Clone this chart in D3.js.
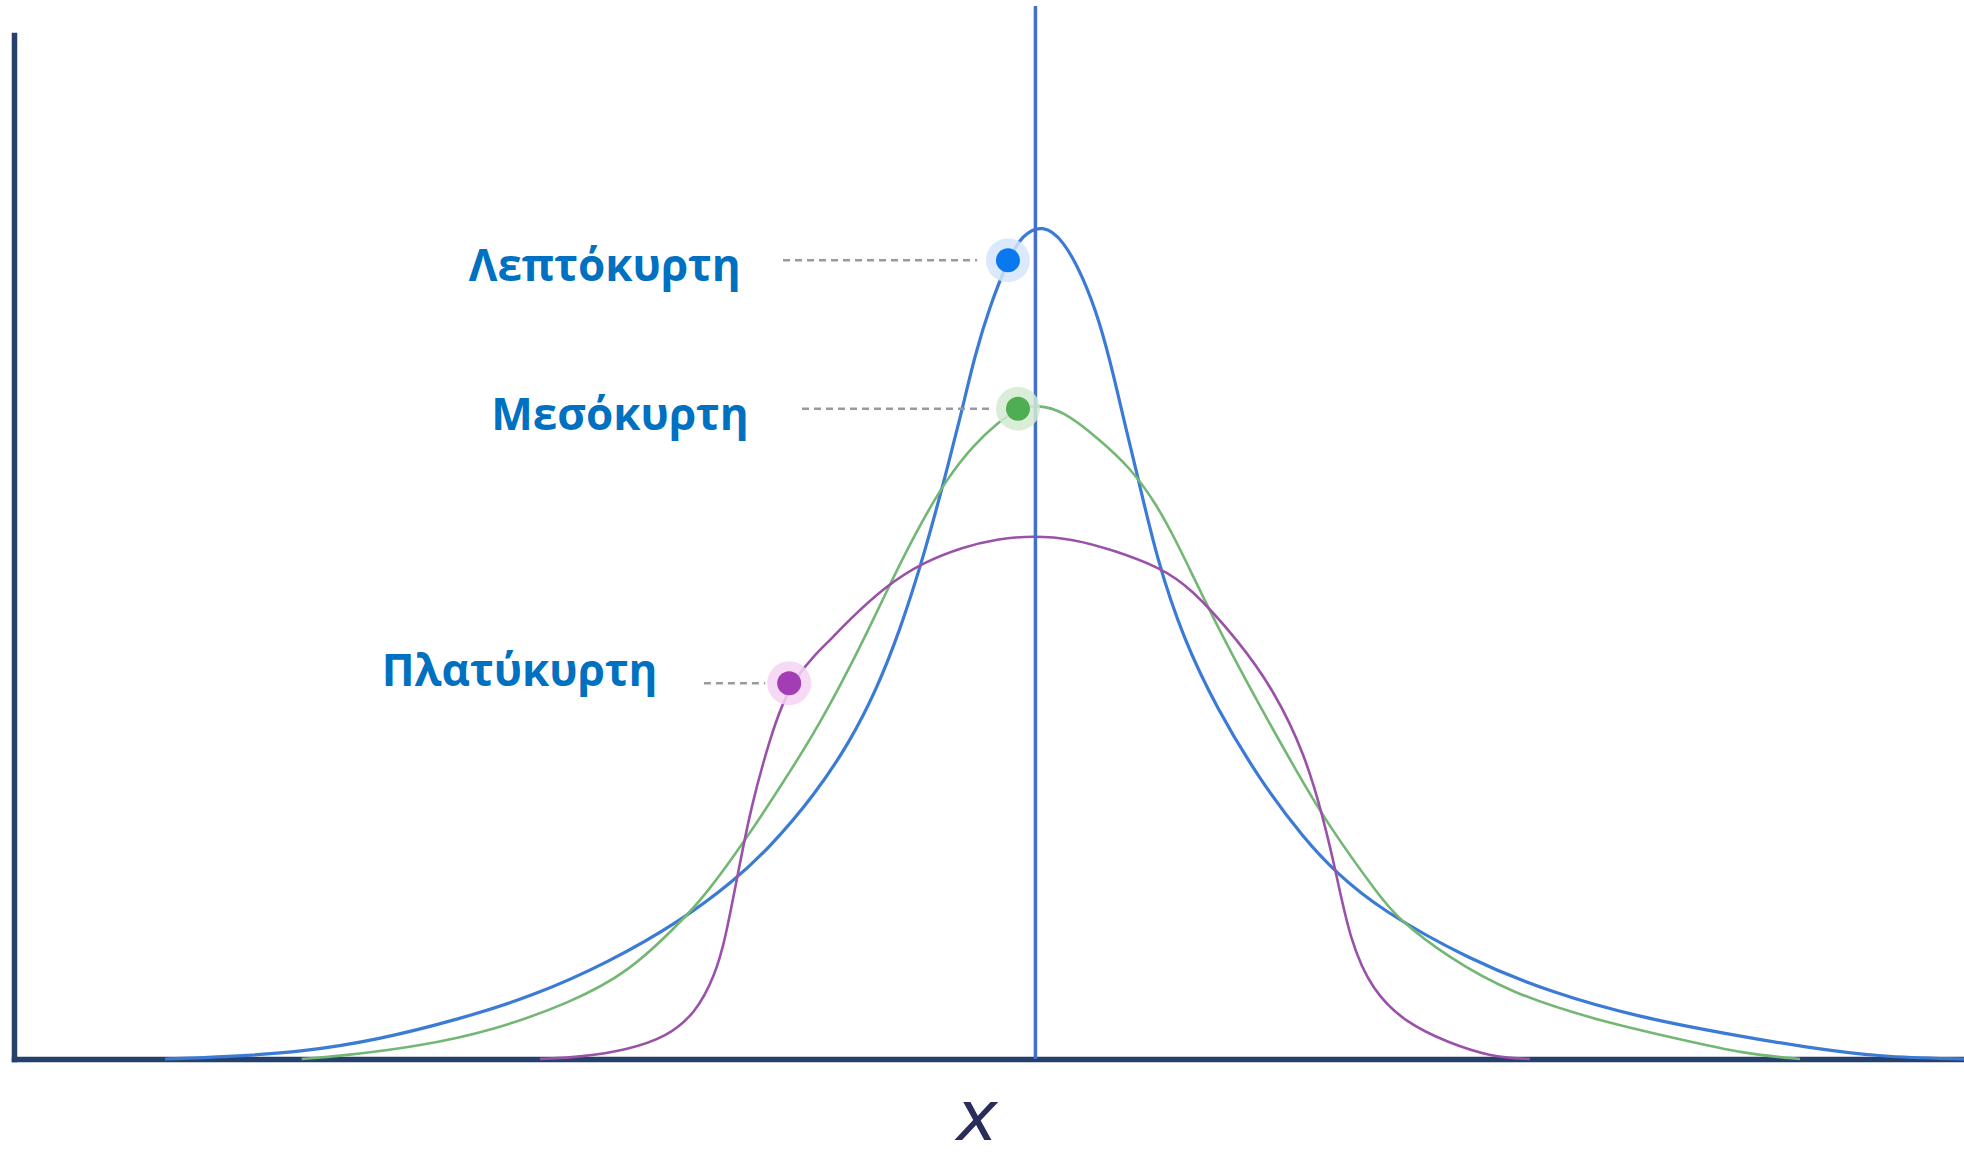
<!DOCTYPE html>
<html>
<head>
<meta charset="utf-8">
<script src="https://cdn.jsdelivr.net/npm/d3@7"></script>
<style>
  html, body { margin: 0; padding: 0; background: #ffffff; }
  svg { display: block; }
</style>
</head>
<body>
<svg id="chart" width="1964" height="1157"></svg>
<script>
// Density curves, as [x, density] pairs
const leptokurtic = [
  [-4.687, 0.000], [-4.358, 0.002], [-3.944, 0.007], [-3.534, 0.019], [-3.120, 0.038],
  [-2.711, 0.061], [-2.301, 0.094], [-1.908, 0.135], [-1.623, 0.174], [-1.434, 0.206],
  [-1.192, 0.257], [-0.998, 0.310], [-0.858, 0.360], [-0.734, 0.416], [-0.594, 0.495],
  [-0.460, 0.587], [-0.395, 0.634], [-0.325, 0.688], [-0.244, 0.736], [-0.148, 0.780],
  [-0.072, 0.805], [0.041, 0.815], [0.149, 0.800], [0.256, 0.764], [0.348, 0.719],
  [0.418, 0.670], [0.493, 0.611], [0.547, 0.572], [0.655, 0.487], [0.800, 0.409],
  [0.972, 0.344], [1.209, 0.272], [1.452, 0.214], [1.619, 0.182], [1.856, 0.146],
  [2.335, 0.097], [2.792, 0.064], [3.250, 0.041], [3.708, 0.025], [4.160, 0.011],
  [4.548, 0.002], [5.000, 0.000]
];
const mesokurtic = [
  [-3.951, 0.000], [-3.739, 0.003], [-3.330, 0.012], [-2.915, 0.028], [-2.506, 0.055],
  [-2.194, 0.084], [-1.908, 0.134], [-1.768, 0.162], [-1.553, 0.216], [-1.359, 0.270],
  [-1.192, 0.318], [-1.047, 0.366], [-0.907, 0.416], [-0.767, 0.470], [-0.621, 0.522],
  [-0.476, 0.567], [-0.336, 0.599], [-0.207, 0.621], [-0.094, 0.635], [0.009, 0.639],
  [0.149, 0.633], [0.332, 0.607], [0.509, 0.578], [0.655, 0.541], [0.762, 0.504],
  [0.832, 0.478], [0.972, 0.425], [1.188, 0.351], [1.403, 0.282], [1.570, 0.230],
  [1.856, 0.158], [1.947, 0.138], [2.222, 0.099], [2.566, 0.064], [3.019, 0.038],
  [3.477, 0.019], [3.821, 0.005], [4.117, 0.000]
];
const platykurtic = [
  [-2.668, 0.000], [-2.442, 0.002], [-2.199, 0.009], [-1.989, 0.021], [-1.828, 0.045],
  [-1.725, 0.082], [-1.671, 0.116], [-1.601, 0.182], [-1.532, 0.246], [-1.434, 0.310],
  [-1.364, 0.347], [-1.284, 0.374], [-1.192, 0.394], [-1.095, 0.411], [-1.014, 0.427],
  [-0.799, 0.463], [-0.605, 0.485], [-0.390, 0.500], [-0.207, 0.508], [-0.013, 0.511],
  [0.202, 0.508], [0.418, 0.497], [0.671, 0.480], [0.832, 0.461], [1.091, 0.409],
  [1.285, 0.360], [1.452, 0.297], [1.549, 0.236], [1.619, 0.182], [1.694, 0.116],
  [1.812, 0.067], [1.996, 0.035], [2.222, 0.016], [2.453, 0.002], [2.663, 0.000]
];

const seriesNames = ["Λεπτόκυρτη", "Μεσόκυρτη", "Πλατύκυρτη"];
const seriesColors = ["#3b7bd6", "#74b674", "#9a52a8"];
const markerColors = ["#0a78ee", "#4eae52", "#a33db5"];
const haloColors = ["#d3e6fb", "#d3ead1", "#f4d4f3"];

// Marker points on each curve, and where the labels and leaders sit
const markerX = [-0.148, -0.094, -1.326];
const markerY = [0.780, 0.635, 0.367];
const labelX = [-1.587, -1.544, -2.035];   // right end of the label text
const labelY = [0.760, 0.614, 0.364];      // label baseline
const leaderStartX = [-1.359, -1.257, -1.785];
const leaderEndX = [-0.314, -0.245, -1.455];

const meanX = 0;
const xDomain = [-5.5, 5];
const yDomain = [0, 1];
const axisTitle = "x";

const svg = d3.select("#chart");
const x = d3.scaleLinear().domain(xDomain).range([14, 1964]);
const y = d3.scaleLinear().domain(yDomain).range([1059, 35]);

const curves = [leptokurtic, mesokurtic, platykurtic];

// Axes: plain lines, no ticks
const xAxis = svg.append("g")
  .attr("transform", `translate(0,${y(0)})`)
  .call(d3.axisBottom(x).tickValues([]).tickSizeOuter(0));
const yAxis = svg.append("g")
  .attr("transform", `translate(${x(xDomain[0])},0)`)
  .call(d3.axisLeft(y).tickValues([]).tickSizeOuter(0));
[xAxis, yAxis].forEach(g => g.select(".domain")
  .attr("stroke", "#26406c")
  .attr("stroke-width", 5.5)
  .attr("stroke-linecap", "square"));

// Curves, smoothed through the sampled points
const line = d3.line()
  .x(d => x(d[0]))
  .y(d => y(d[1]))
  .curve(d3.curveBasis);

svg.append("g").selectAll("path")
  .data(curves)
  .join("path")
  .attr("d", line)
  .attr("fill", "none")
  .attr("stroke", (d, i) => seriesColors[i])
  .attr("stroke-width", (d, i) => i === 0 ? 3.2 : 2.6)
  .attr("stroke-linejoin", "round");

// Vertical line at the mean
svg.append("line")
  .attr("x1", x(meanX)).attr("x2", x(meanX))
  .attr("y1", 6).attr("y2", y(0))
  .attr("stroke", "#4270cc")
  .attr("stroke-width", 3.5);

// Leaders
const idx = d3.range(seriesNames.length);
svg.append("g").selectAll("line")
  .data(idx)
  .join("line")
  .attr("x1", i => x(leaderStartX[i]))
  .attr("x2", i => x(leaderEndX[i]))
  .attr("y1", i => y(markerY[i]))
  .attr("y2", i => y(markerY[i]))
  .attr("stroke", "#9a9a9a")
  .attr("stroke-width", 2.4)
  .attr("stroke-dasharray", "7 5");

// Markers with a soft halo
const markers = svg.append("g").selectAll("g")
  .data(idx)
  .join("g")
  .attr("transform", i => `translate(${x(markerX[i])},${y(markerY[i])})`);
markers.append("circle")
  .attr("r", 22)
  .attr("fill", i => haloColors[i])
  .attr("opacity", 0.85);
markers.append("circle")
  .attr("r", 12)
  .attr("fill", i => markerColors[i]);

// Labels
svg.append("g").selectAll("text")
  .data(idx)
  .join("text")
  .attr("x", i => x(labelX[i]))
  .attr("y", i => y(labelY[i]))
  .attr("text-anchor", "end")
  .attr("font-family", "'Open Sans', 'Noto Sans', sans-serif")
  .attr("font-weight", 700)
  .attr("font-size", 44)
  .attr("fill", "#0070c0")
  .text(i => seriesNames[i]);

// Axis title
svg.append("text")
  .attr("x", 977)
  .attr("y", 1140)
  .attr("text-anchor", "middle")
  .attr("font-family", "'DejaVu Sans', sans-serif")
  .attr("font-style", "italic")
  .attr("font-size", 70)
  .attr("fill", "#2a2d5c")
  .text(axisTitle);
</script>
</body>
</html>
